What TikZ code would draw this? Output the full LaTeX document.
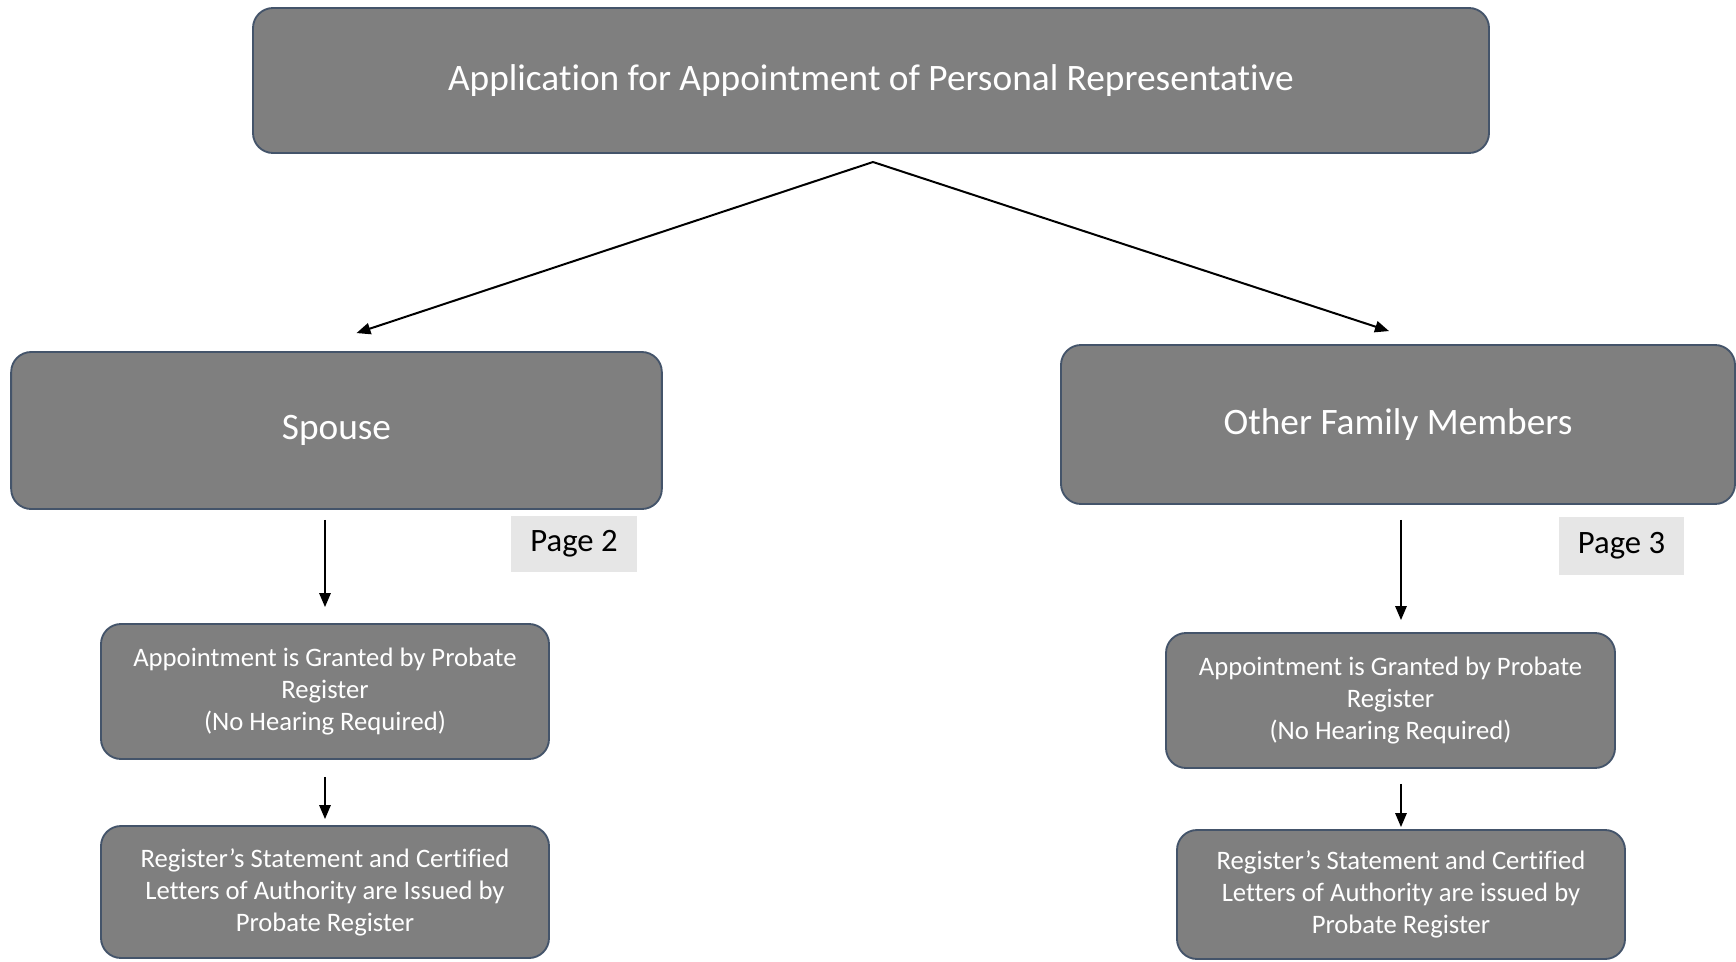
\documentclass[tikz,border=0pt]{standalone}
\usepackage{fontspec}
\setmainfont{Carlito}[Ligatures=NoCommon]
\usetikzlibrary{arrows.meta}
\definecolor{boxgray}{HTML}{7F7F7F}
\definecolor{boxline}{HTML}{44546A}
\definecolor{taggray}{HTML}{E6E6E6}
\tikzset{
  box/.style={draw=boxline,fill=boxgray,line width=1.4pt,rounded corners=15pt,
    text=white,align=center,inner sep=0pt},
  pagetag/.style={fill=taggray,inner sep=0pt,font=\fontsize{24.5}{29}\selectfont},
  arr/.style={line width=1.5pt,-{Triangle[length=10.5pt,width=8.5pt]}}
}
\begin{document}
\begin{tikzpicture}[x=0.75pt,y=-0.75pt]
  \useasboundingbox (0,0) rectangle (1736,961);
  \node[box,minimum width=927pt,minimum height=108.75pt,font=\fontsize{28}{34}\selectfont] (top) at (871,80.5) {Application for Appointment of Personal Representative};
  \node[box,minimum width=488pt,minimum height=117.75pt,font=\fontsize{28}{34}\selectfont] (spouse) at (336.5,430.5) {Spouse};
  \node[box,minimum width=505.5pt,minimum height=119.25pt,font=\fontsize{28}{34}\selectfont] (other) at (1398,424.5) {Other Family Members};
  \node[pagetag,minimum width=94.5pt,minimum height=42pt] (page2) at (574,544) {Page 2};
  \node[pagetag,minimum width=93.75pt,minimum height=43.5pt] (page3) at (1621.5,546) {Page 3};
  \node[box,minimum width=336pt,minimum height=101.25pt,font=\fontsize{20}{24}\selectfont] (appL) at (325,691.5) {Appointment is Granted by Probate\\Register\\(No Hearing Required)};
  \node[box,minimum width=336pt,minimum height=99pt,font=\fontsize{20}{24}\selectfont] (regL) at (325,892) {Register’s Statement and Certified\\Letters of Authority are Issued by\\Probate Register};
  \node[box,minimum width=336.75pt,minimum height=101.25pt,font=\fontsize{20}{24}\selectfont] (appR) at (1390.5,700.5) {Appointment is Granted by Probate\\Register\\(No Hearing Required)};
  \node[box,minimum width=336pt,minimum height=96.75pt,font=\fontsize{20}{24}\selectfont] (regR) at (1401,894.5) {Register’s Statement and Certified\\Letters of Authority are issued by\\Probate Register};
  \coordinate (fork) at (873,162);
  \draw[arr] (fork) -- ([xshift=15pt,yshift=13.5pt]spouse.north);
  \draw[arr] (fork) -- ([xshift=-6.75pt,yshift=9.75pt]other.north);
  \draw[arr,shorten <=7.5pt,shorten >=12pt] (appL.north |- spouse.south) -- (appL.north);
  \draw[arr,shorten <=12.75pt,shorten >=4.5pt] (appL.south) -- (regL.north);
  \draw[arr,shorten <=11.25pt,shorten >=9pt] (regR.north |- other.south) -- (regR.north |- appR.north);
  \draw[arr,shorten <=11.25pt,shorten >=1.5pt] (regR.north |- appR.south) -- (regR.north);
\end{tikzpicture}
\end{document}
